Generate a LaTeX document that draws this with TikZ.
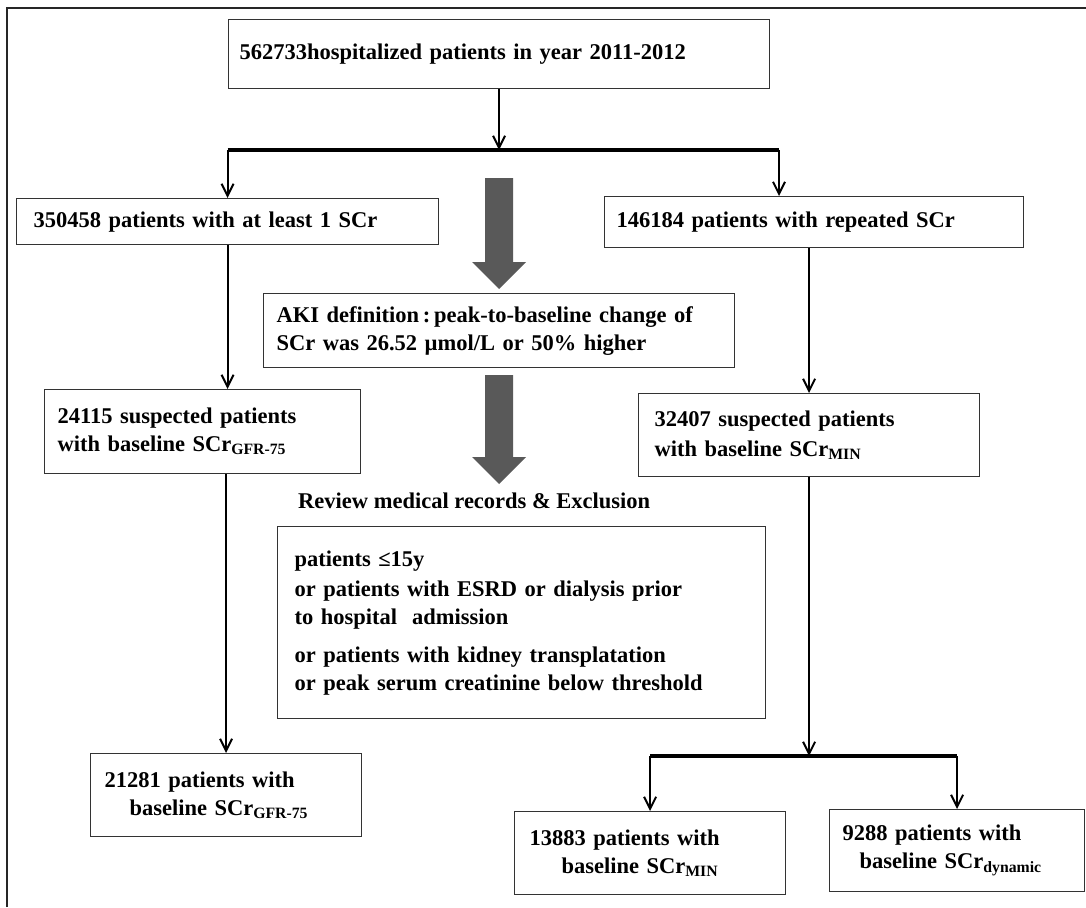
\documentclass[tikz,border=0pt]{standalone}
\usepackage{fontspec}
\setmainfont{Liberation Serif}
\usepackage{tikz}
\usetikzlibrary{arrows.meta, calc, positioning}
\newcommand{\subtxt}[1]{\textsubscript{#1}}

\begin{document}
\begin{tikzpicture}[
			x=1pt, y=-1pt,
			box/.style={rectangle, draw=black!80, line width=1.2pt, anchor=north west, align=left, inner ysep=0pt, font=\bfseries\fontsize{22.5}{28}\selectfont},
			lbl/.style={anchor=base west, inner sep=0pt, font=\bfseries\fontsize{22.5}{28}\selectfont},
			arr/.style={draw, line width=2pt, -{Straight Barb[length=12pt,width=12pt,line width=2pt]}},
			bar/.style={draw, line width=3.5pt},
			bigarrow/.style={fill=black!65, draw=none}
			]
			\useasboundingbox (0,0) rectangle (1086,907);

			% Le cadre
			\draw[line width=2.5pt, black!85] (7,907) -- (7,8) -- (1086,8);

			% Les boites
			\node[box, text width=519pt, inner xsep=11pt, minimum height=69pt] (start) at (228,19) {562733hospitalized patients in year 2011-2012};
			\node[box, text width=388pt, inner xsep=17pt, minimum height=46pt] (oneSCr) at (16,198) {350458 patients with at least 1 SCr};
			\node[box, text width=395pt, inner xsep=12pt, minimum height=51pt] (repSCr) at (604,196) {146184 patients with repeated SCr};
			\node[box, text width=445pt, inner xsep=13pt, minimum height=74pt] (aki) at (263,293) {AKI definition\,:\,peak-to-baseline change of\\SCr was 26.52 µmol/L or 50\% higher};
			\node[box, text width=290pt, inner xsep=13pt, minimum height=84pt] (suspGFR) at (44,389) {24115 suspected patients\\with baseline SCr\subtxt{GFR-75}};
			\node[box, text width=309pt, inner xsep=16pt, minimum height=83pt] (suspMIN) at (638,393) {32407 suspected patients\\[2pt]with baseline SCr\subtxt{MIN}};
			\node[lbl] (review) at (298,508) {Review medical records \& Exclusion};
			\node[box, text width=454pt, inner xsep=17pt, minimum height=192pt] (excl) at (277,526) {patients ≤15y\\[2pt]or patients with ESRD or dialysis prior\\to hospital\ \ admission\\[10pt]or patients with kidney transplatation\\or peak serum creatinine below threshold};
			\node[box, text width=243pt, inner xsep=14pt, minimum height=83pt] (finGFR) at (90,753) {21281 patients with\\\hspace*{25pt}baseline SCr\subtxt{GFR-75}};
			\node[box, text width=241pt, inner xsep=15pt, minimum height=83pt] (finMIN) at (514,811) {13883 patients with\\\hspace*{32pt}baseline SCr\subtxt{MIN}};
			\node[box, text width=229pt, inner xsep=13pt, minimum height=82pt] (finDyn) at (829,809) {9288 patients with\\\hspace*{17pt}baseline SCr\subtxt{dynamic}};

			% Les points de partage
			\coordinate (splitA) at (779,150);
			\coordinate (splitB) at (808,756);

			% Les fleches
			\draw[arr] (start.south) -- (start.south |- splitA);
			\draw[bar] (oneSCr.north |- splitA) -- (splitA);
			\draw[arr] (oneSCr.north |- splitA) -- (oneSCr.north);
			\draw[arr] (splitA) -- (splitA |- repSCr.north);
			\draw[arr] (oneSCr.south) -- (oneSCr.south |- suspGFR.north);
			\draw[arr] (finGFR.north |- suspGFR.south) -- (finGFR.north);
			\draw[arr] (suspMIN.north |- repSCr.south) -- (suspMIN.north);
			\draw[arr] (suspMIN.south) -- (suspMIN.south |- splitB);
			\draw[bar] (finMIN.north |- splitB) -- (finDyn.north |- splitB);
			\draw[arr] (finMIN.north |- splitB) -- (finMIN.north);
			\draw[arr] (finDyn.north |- splitB) -- (finDyn.north);

			% Les grosses fleches grises
			\foreach \ya/\yb in {178/262, 375/457}
				\fill[bigarrow] (485,\ya) -- (513,\ya) -- (513,\yb) -- (526,\yb) -- (499,\yb+27) -- (472,\yb) -- (485,\yb) -- cycle;
		\end{tikzpicture}
\end{document}
